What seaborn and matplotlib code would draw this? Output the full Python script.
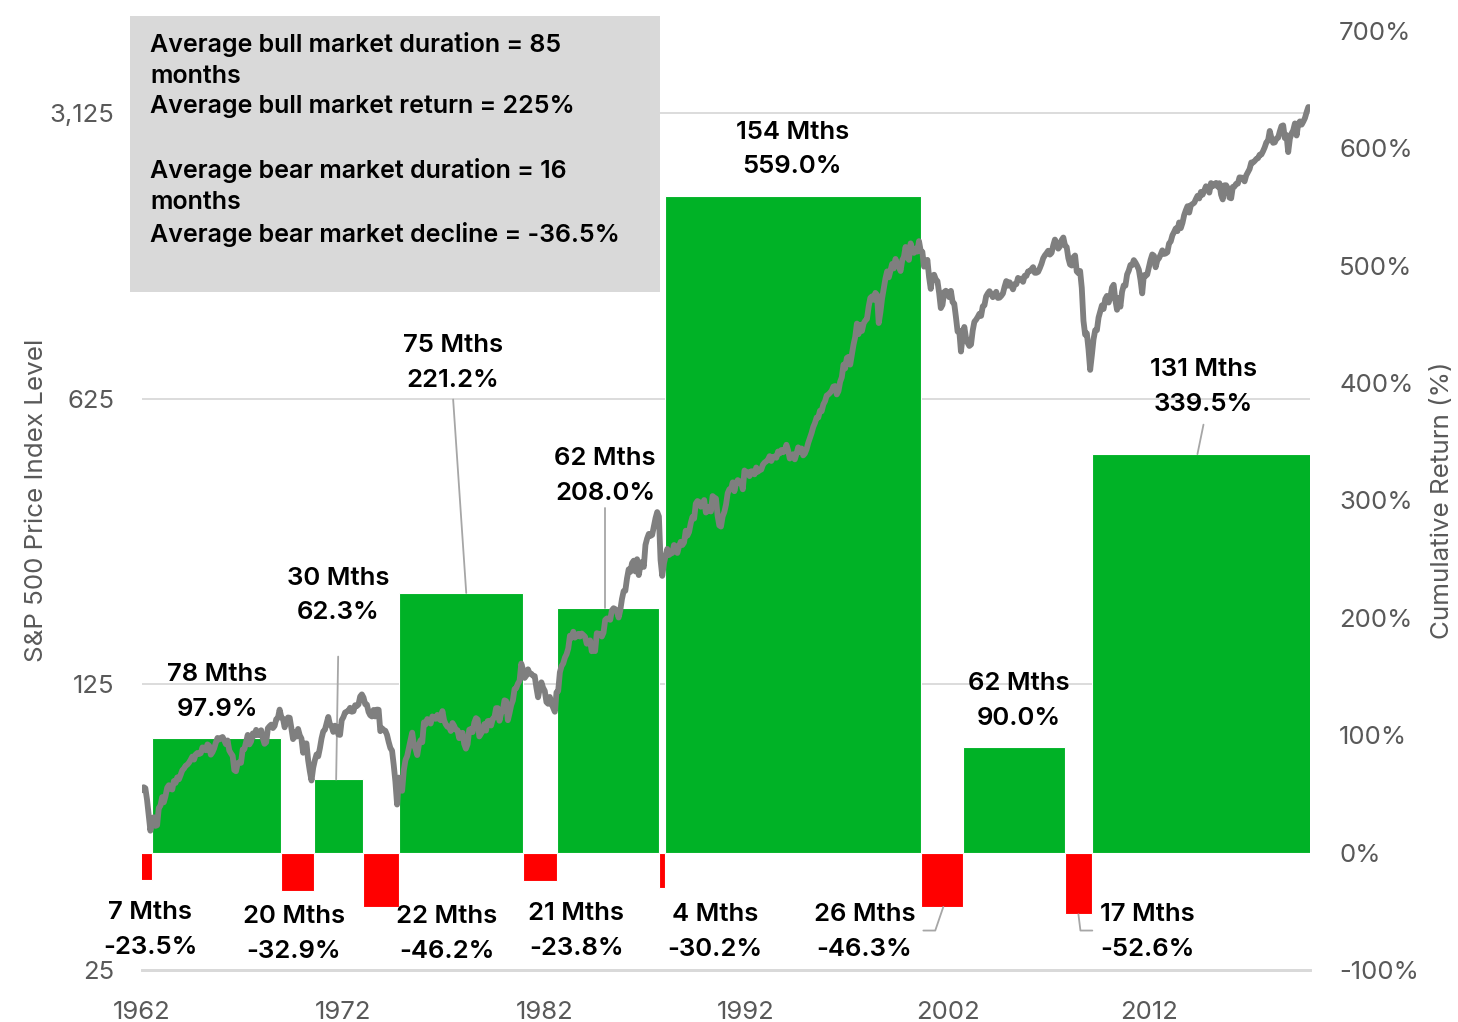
import numpy as np
import pandas as pd
import matplotlib
matplotlib.use('Agg')
import matplotlib.pyplot as plt
import matplotlib.patches as mpatches
from matplotlib.ticker import FixedLocator, NullLocator
import seaborn as sns

# S&P 500 month-end closes, Jan 1962 .. Jan 2020 (one row per year)
sp500_close = [
    68.8, 70.0, 69.6, 65.2, 59.6, 54.8, 58.2, 59.1, 56.3, 56.5, 62.3, 63.1,
    66.2, 64.3, 66.6, 69.8, 70.8, 69.4, 69.1, 72.5, 71.7, 74.0, 73.2, 75.0,
    77.0, 77.8, 79.0, 79.5, 80.4, 81.7, 83.2, 81.8, 84.2, 84.9, 84.4, 84.8,
    87.6, 87.4, 86.2, 89.1, 88.4, 84.1, 85.3, 87.2, 90.0, 92.4, 91.6, 92.4,
    92.9, 91.2, 89.2, 91.1, 86.1, 84.7, 83.6, 77.1, 76.6, 80.2, 80.5, 80.3,
    86.6, 86.8, 90.2, 94.0, 89.1, 90.6, 94.8, 93.6, 96.7, 93.9, 94.0, 96.5,
    92.2, 89.4, 90.2, 97.6, 98.7, 99.6, 97.7, 98.9, 102.7, 103.4, 108.4, 103.9,
    103.0, 98.1, 101.5, 103.7, 103.5, 97.7, 91.8, 95.5, 93.1, 97.2, 93.8, 92.1,
    85.0, 89.5, 89.6, 81.5, 76.6, 72.7, 78.1, 81.5, 84.2, 83.3, 87.2, 92.2,
    95.9, 96.8, 100.3, 104.0, 99.6, 98.7, 95.6, 99.0, 98.3, 94.2, 94.0, 102.1,
    103.9, 106.6, 107.2, 107.7, 109.5, 107.1, 107.4, 111.1, 110.6, 111.6, 116.7, 118.1,
    116.0, 111.7, 111.5, 107.0, 105.0, 104.3, 108.2, 104.3, 108.4, 108.3, 96.0, 97.6,
    96.6, 96.2, 94.0, 90.3, 87.3, 86.0, 79.3, 72.2, 63.5, 73.9, 70.0, 68.6,
    77.0, 81.6, 83.4, 87.3, 91.2, 95.2, 88.8, 86.9, 83.9, 89.0, 91.2, 90.2,
    100.9, 99.7, 102.8, 101.6, 100.2, 104.3, 103.4, 102.9, 105.2, 102.9, 102.1, 107.5,
    102.0, 99.8, 98.4, 98.4, 96.1, 100.5, 98.9, 96.8, 96.5, 92.3, 94.8, 95.1,
    89.3, 87.0, 89.2, 96.8, 97.2, 95.5, 100.7, 103.3, 102.5, 93.2, 94.7, 96.1,
    99.9, 96.3, 101.6, 101.8, 99.1, 102.9, 103.8, 109.3, 109.3, 101.8, 106.2, 107.9,
    114.2, 113.7, 102.1, 106.3, 111.2, 114.2, 121.7, 122.4, 125.5, 127.5, 140.5, 135.8,
    129.6, 131.3, 136.0, 132.8, 132.6, 131.2, 130.9, 122.8, 116.2, 121.9, 126.4, 122.6,
    120.4, 113.1, 112.0, 116.4, 111.9, 109.6, 107.1, 119.5, 120.4, 133.7, 138.5, 140.6,
    145.3, 148.1, 153.0, 164.4, 162.4, 168.1, 162.6, 164.4, 166.1, 163.6, 166.4, 164.9,
    163.4, 157.1, 159.2, 160.1, 150.6, 153.2, 150.7, 166.7, 166.1, 166.1, 163.6, 167.2,
    179.6, 181.2, 180.7, 179.8, 189.6, 191.9, 190.9, 188.6, 182.1, 189.8, 202.2, 211.3,
    211.8, 226.9, 238.9, 235.5, 247.4, 250.8, 236.1, 252.9, 231.3, 244.0, 249.2, 242.2,
    274.1, 284.2, 291.7, 288.4, 290.1, 304.0, 318.7, 329.8, 321.8, 251.8, 230.3, 247.1,
    257, 268, 259, 261, 262, 274, 272, 262, 272, 279, 274, 278,
    297, 289, 295, 310, 321, 318, 346, 351, 349, 340, 346, 353,
    329, 332, 340, 331, 361, 358, 356, 323, 306, 304, 322, 330,
    344, 367, 375, 375, 390, 371, 388, 395, 388, 392, 375, 417,
    409, 413, 404, 415, 415, 408, 424, 414, 418, 419, 431, 436,
    439, 443, 452, 440, 450, 451, 448, 464, 459, 468, 462, 466,
    482, 467, 446, 451, 457, 444, 458, 475, 463, 472, 454, 459,
    470, 487, 501, 515, 533, 545, 562, 562, 584, 582, 605, 616,
    636, 640, 646, 654, 669, 671, 640, 652, 687, 705, 757, 741,
    786, 791, 757, 801, 848, 885, 954, 899, 947, 915, 955, 970,
    980, 1049, 1102, 1112, 1091, 1134, 1121, 957, 1017, 1099, 1164, 1229,
    1280, 1238, 1286, 1335, 1302, 1373, 1329, 1320, 1283, 1363, 1389, 1469,
    1394, 1366, 1499, 1452, 1421, 1455, 1431, 1518, 1437, 1429, 1315, 1320,
    1366, 1240, 1160, 1249, 1256, 1224, 1211, 1134, 1041, 1060, 1139, 1148,
    1130, 1107, 1147, 1077, 1067, 990, 912, 916, 815, 886, 936, 880,
    856, 841, 848, 917, 964, 975, 990, 1008, 996, 1051, 1058, 1112,
    1131, 1145, 1126, 1107, 1121, 1141, 1102, 1104, 1115, 1130, 1174, 1212,
    1181, 1204, 1181, 1157, 1192, 1191, 1234, 1220, 1229, 1207, 1249, 1248,
    1280, 1281, 1295, 1311, 1270, 1270, 1277, 1304, 1336, 1378, 1401, 1418,
    1438, 1407, 1421, 1482, 1531, 1503, 1455, 1474, 1527, 1549, 1481, 1468,
    1379, 1331, 1323, 1386, 1400, 1280, 1267, 1283, 1166, 969, 896, 903,
    826, 735, 798, 873, 919, 919, 987, 1021, 1057, 1036, 1096, 1115,
    1074, 1104, 1169, 1187, 1089, 1031, 1102, 1049, 1141, 1183, 1181, 1258,
    1286, 1327, 1326, 1364, 1345, 1321, 1292, 1219, 1131, 1253, 1247, 1258,
    1312, 1366, 1408, 1398, 1310, 1362, 1379, 1407, 1441, 1412, 1416, 1426,
    1498, 1515, 1569, 1598, 1631, 1606, 1686, 1633, 1682, 1757, 1806, 1848,
    1783, 1859, 1872, 1884, 1924, 1960, 1931, 2003, 1972, 2018, 2068, 2059,
    1995, 2105, 2068, 2086, 2107, 2063, 2104, 1972, 1920, 2079, 2080, 2044,
    1940, 1932, 2060, 2065, 2097, 2099, 2174, 2171, 2168, 2126, 2199, 2239,
    2279, 2364, 2363, 2384, 2412, 2423, 2470, 2472, 2519, 2575, 2648, 2674,
    2824, 2714, 2641, 2648, 2705, 2718, 2816, 2902, 2914, 2712, 2760, 2507,
    2704, 2784, 2834, 2946, 2752, 2942, 2980, 2926, 2977, 3038, 3141, 3231,
    3226,
]
first_year = 1962

# bull / bear cycles (bear first), boundaries in decimal years
cycle_bounds = [1961.92, 1962.50, 1968.90, 1970.54, 1972.97, 1974.75, 1980.91,
                1982.60, 1987.66, 1987.97, 2000.70, 2002.79, 2007.85, 2009.19, 2020.10]
cycle_months = [7, 78, 20, 30, 22, 75, 21, 62, 4, 154, 26, 62, 17, 131]
cycle_return = [-23.5, 97.9, -32.9, 62.3, -46.2, 221.2, -23.8, 208.0,
                -30.2, 559.0, -46.3, 90.0, -52.6, 339.5]

left_ticks = [25, 125, 625, 3125]
left_labels = ['25', '125', '625', '3,125']
right_ticks = [-100, 0, 100, 200, 300, 400, 500, 600, 700]
year_ticks = [1962, 1972, 1982, 1992, 2002, 2012]

summary_text = ("Average bull market duration = 85\nmonths\n"
                "Average bull market return = 225%\n\n"
                "Average bear market duration = 16\nmonths\n"
                "Average bear market decline = -36.5%")

GREEN = '#00B226'
RED = '#FF0000'
LINE = '#7F7F7F'
TICK = '#595959'
GRID = '#D9D9D9'
LEADER = '#A6A6A6'

sns.set_theme(style='white')
plt.rcParams['font.family'] = ['Inter', 'DejaVu Sans']

df = pd.DataFrame({
    'year': first_year + np.arange(len(sp500_close)) / 12.0,
    'close': sp500_close,
})

fig = plt.figure(figsize=(14.58, 10.22), dpi=100)
ax = fig.add_axes([0.0974, 0.0509, 0.8011, 0.9188])
axb = ax.twinx()
axl = ax.twinx()

# base axis: log price scale with gridlines
ax.set_yscale('log', base=5)
ax.set_ylim(25, 4960)
ax.set_xlim(1962, 2020)
ax.yaxis.set_major_locator(FixedLocator(left_ticks))
ax.yaxis.set_minor_locator(NullLocator())
ax.set_yticklabels(left_labels)
ax.grid(axis='y', color=GRID, linewidth=1.3)
ax.grid(axis='x', visible=False)
ax.set_xticks(year_ticks)
ax.set_xticklabels([str(y) for y in year_ticks])
ax.tick_params(axis='y', length=0, pad=20, labelsize=18.5, labelcolor=TICK)
ax.tick_params(axis='x', length=7, width=1.5, color=GRID, direction='out',
               pad=15, labelsize=18.5, labelcolor=TICK)

# bars: cumulative return of each cycle
starts = np.array(cycle_bounds[:-1])
widths = np.diff(cycle_bounds)
colors = [GREEN if r > 0 else RED for r in cycle_return]
axb.bar(starts, cycle_return, width=widths, align='edge', color=colors,
        edgecolor='white', linewidth=0.8)
axb.set_ylim(-100, 700)
axb.set_yticks(right_ticks)
axb.set_yticklabels([f'{t}%' for t in right_ticks])
axb.tick_params(axis='y', length=0, pad=21, labelsize=18.5, labelcolor=TICK)
axb.grid(False)

# price line
sns.lineplot(data=df, x='year', y='close', ax=axl, color=LINE, linewidth=4.2)
axl.set_yscale('log', base=5)
axl.set_ylim(25, 4960)
axl.set_xlim(1962, 2020)
axl.set_yticks([])
axl.yaxis.set_minor_locator(NullLocator())
axl.set_ylabel('')
axl.set_xlabel('')
ax.set_xlabel('')
axl.grid(False)

for a in (ax, axb, axl):
    for side in ('top', 'left', 'right'):
        a.spines[side].set_visible(False)
    a.spines['bottom'].set_color(GRID)
    a.spines['bottom'].set_linewidth(1.8)

# cycle labels (text centre in year / return coords)
label_pos = [(1962.40, -66), (1965.73, 137), (1969.55, -69), (1971.74, 219),
             (1977.15, -69), (1977.45, 417), (1983.56, -67), (1985.00, 321),
             (1990.46, -68), (1994.29, 599), (1997.87, -68), (2005.52, 129),
             (2011.93, -68), (2014.71, 397)]
for (lx, ly), m, r in zip(label_pos, cycle_months, cycle_return):
    axl.text(lx, ly, f'{m} Mths\n{r:.1f}%', transform=axb.transData,
             ha='center', va='center', multialignment='center',
             fontsize=18.5, fontweight='semibold', color='black', linespacing=1.66)

leaders = [
    ([1971.74, 1971.64], [167, 62.3]),
    ([1977.45, 1978.10], [386, 221.2]),
    ([1985.00, 1985.00], [294, 208.0]),
    ([2014.71, 2014.41], [364.6, 339.5]),
    ([2000.80, 2001.39, 2001.79], [-66.4, -66.4, -46.3]),
    ([2008.50, 2008.60, 2009.19], [-52.6, -66.4, -66.4]),
]
for xs, ys in leaders:
    axb.plot(xs, ys, color=LEADER, linewidth=1.3)

# summary box
fig.patches.append(mpatches.Rectangle((130 / 1458, 1 - 292 / 1022), 530 / 1458, 276 / 1022,
                                      transform=fig.transFigure, facecolor=GRID,
                                      edgecolor='none', zorder=5))
fig.text(150 / 1458, 1 - 32 / 1022, summary_text, ha='left', va='top',
         fontsize=18, fontweight='semibold', color='black', linespacing=1.43, zorder=6)

fig.text(37 / 1458, 1 - 500 / 1022, 'S&P 500 Price Index Level', rotation=90,
         ha='center', va='center', fontsize=18.7, color=TICK)
fig.text(1443 / 1458, 1 - 500 / 1022, 'Cumulative Return (%)', rotation=90,
         ha='center', va='center', fontsize=18.7, color=TICK)

fig.savefig('out.png', dpi=100)
